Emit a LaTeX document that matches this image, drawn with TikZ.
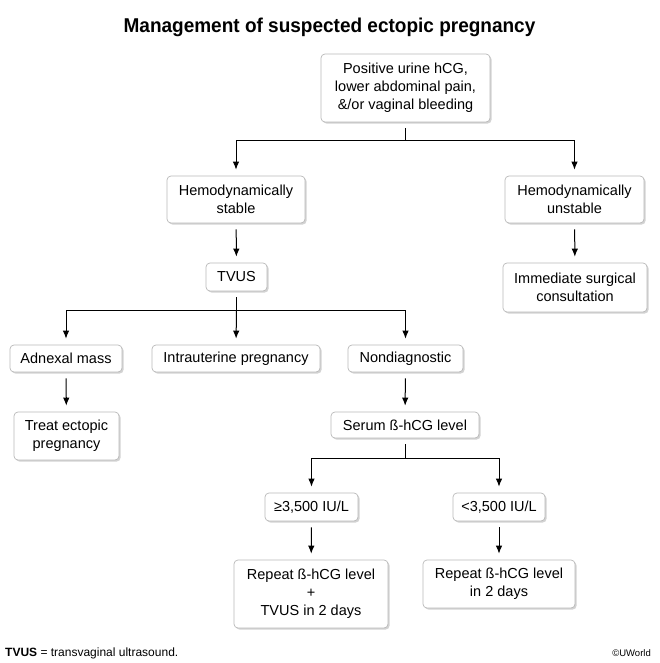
\documentclass[tikz,border=0pt]{standalone}
\usepackage{fontspec}
\setmainfont{Liberation Sans}
\usetikzlibrary{arrows.meta,shadows}
\begin{document}
\begin{tikzpicture}[x=1pt,y=-1pt,
  box/.style={draw=gray!55, line width=0.7pt, rounded corners=4pt, fill=white,
    drop shadow={shadow xshift=1.6pt, shadow yshift=-1.6pt, opacity=0.35, fill=gray},
    align=center, inner sep=0pt, font=\fontsize{14.5}{18}\selectfont},
  conn/.style={line width=1pt, black, shorten <=6pt},
  arr/.style={conn, -{Latex[length=8pt,width=6.5pt]}, shorten >=6pt}
]
\useasboundingbox (0,0) rectangle (659,663);
\node (title) at (329.5,27) {\scalebox{0.95}[1]{\fontsize{20}{22}\selectfont\bfseries Management of suspected ectopic pregnancy}};

\node[box, minimum width=169pt, minimum height=68pt] (top) at (405.5,88) {Positive urine hCG,\\lower abdominal pain,\\\&/or vaginal bleeding};
\node[box, minimum width=138pt, minimum height=47pt] (stable) at (236,199.5) {Hemodynamically\\stable};
\node[box, minimum width=139pt, minimum height=47pt] (unstable) at (574.5,199.5) {Hemodynamically\\unstable};
\node[box, minimum width=61pt, minimum height=28pt] (tvus) at (236.5,277) {TVUS};
\node[box, minimum width=144pt, minimum height=49pt] (surg) at (575,287.5) {Immediate surgical\\consultation};
\node[box, minimum width=112pt, minimum height=27pt] (adnexal) at (66,358.5) {Adnexal mass};
\node[box, minimum width=168pt, minimum height=27pt] (intra) at (236,358.5) {Intrauterine pregnancy};
\node[box, minimum width=115pt, minimum height=27pt] (nondiag) at (405.5,358.5) {Nondiagnostic};
\node[box, minimum width=105pt, minimum height=48pt] (treat) at (66.5,436) {Treat ectopic\\pregnancy};
\node[box, minimum width=148pt, minimum height=26pt] (serum) at (405,425) {Serum ß-hCG level};
\node[box, minimum width=93pt, minimum height=28pt] (ge) at (311.5,507) {≥3,500 IU/L};
\node[box, minimum width=92pt, minimum height=28pt] (lt) at (499,507) {<3,500 IU/L};
\node[box, minimum width=154pt, minimum height=68pt] (rep1) at (311,594) {Repeat ß-hCG level\\+\\TVUS in 2 days};
\node[box, minimum width=152pt, minimum height=48pt] (rep2) at (499,584) {Repeat ß-hCG level\\in 2 days};

\coordinate (h1) at (0,141);
\coordinate (h2) at (0,310);
\coordinate (h3) at (0,458);

\draw[conn] (top.south) -- (top.south |- h1);
\draw[arr, shorten <=0pt] (top.south |- h1) -| (stable.north);
\draw[arr, shorten <=0pt] (top.south |- h1) -| (unstable.north);
\draw[arr] (stable) -- (tvus);
\draw[arr] (unstable) -- (surg);

\draw[conn] (tvus.south) -- (tvus.south |- h2);
\draw[arr, shorten <=0pt] (tvus.south |- h2) -| (adnexal.north);
\draw[arr, shorten <=0pt] (tvus.south |- h2) -| (nondiag.north);
\draw[arr, shorten <=0pt] (tvus.south |- h2) -- (intra.north);
\draw[arr] (adnexal) -- (treat);
\draw[arr] (nondiag) -- (serum);

\draw[conn] (serum.south) -- (serum.south |- h3);
\draw[arr, shorten <=0pt] (serum.south |- h3) -| (ge.north);
\draw[arr, shorten <=0pt] (serum.south |- h3) -| (lt.north);
\draw[arr] (ge) -- (rep1);
\draw[arr] (lt) -- (rep2);

\node[anchor=west, inner sep=0pt, font=\fontsize{12}{14}\selectfont] (foot) at (5,653) {\textbf{TVUS} = transvaginal ultrasound.};
\node[anchor=east, inner sep=0pt, font=\fontsize{9.5}{11}\selectfont] (copy) at (651,653) {©UWorld};
\end{tikzpicture}
\end{document}
